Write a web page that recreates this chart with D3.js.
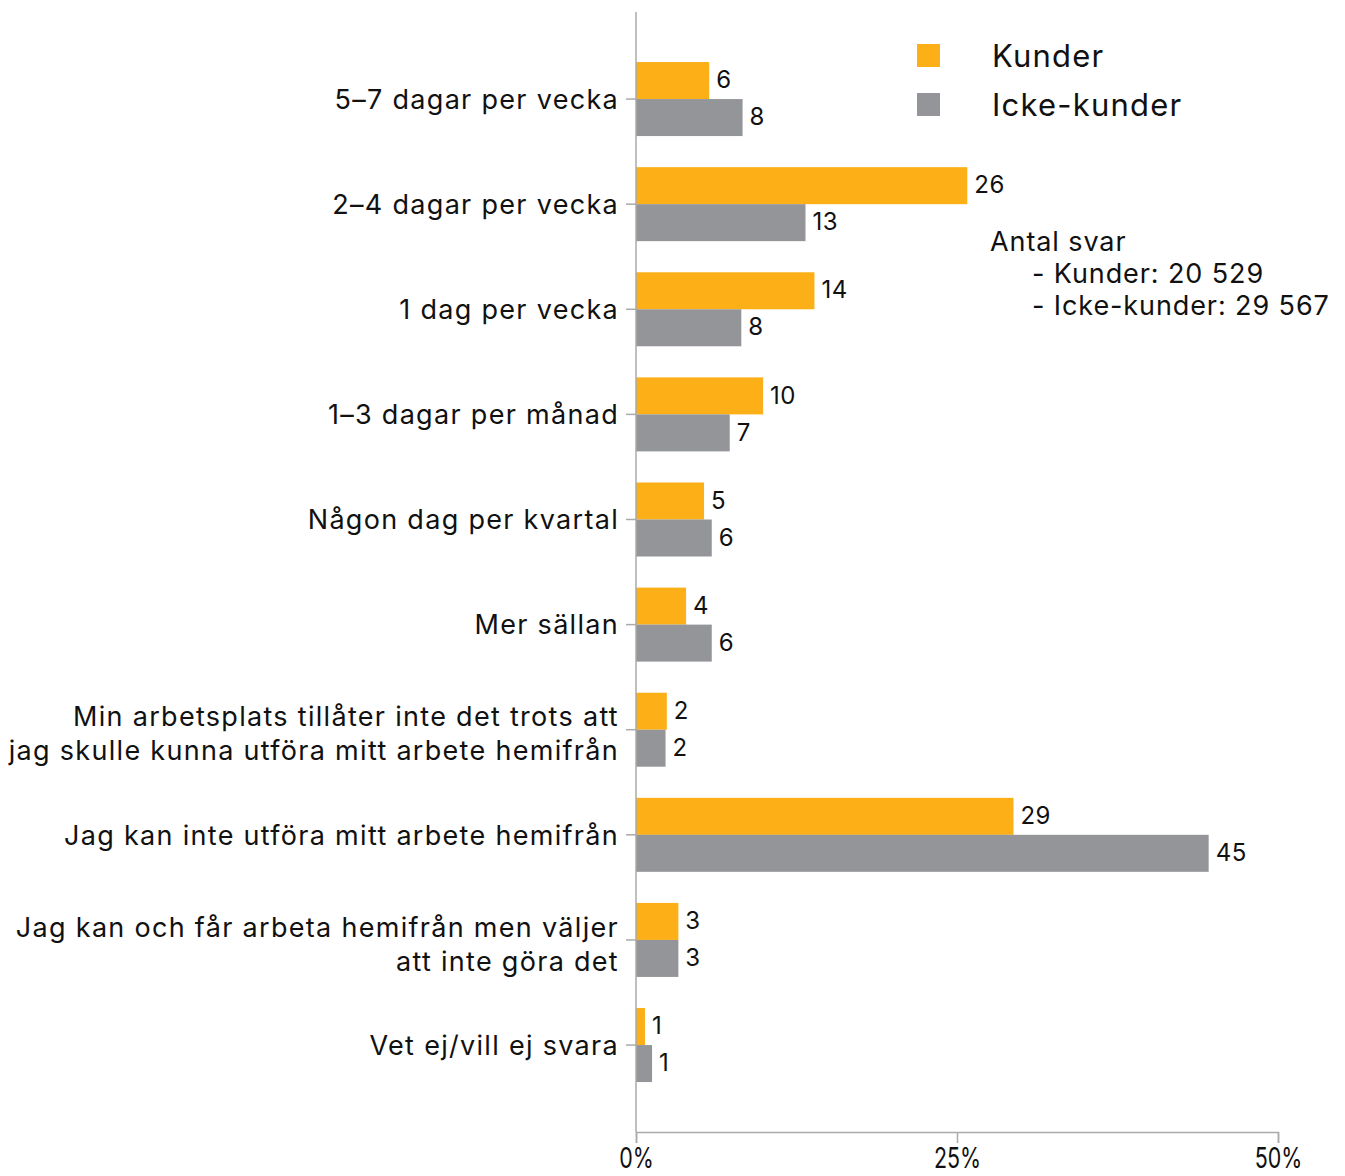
<!DOCTYPE html>
<html><head><meta charset="utf-8">
<script src="https://cdn.jsdelivr.net/npm/d3@7"></script>
<style>
body{margin:0;background:#fff;}
text{font-family:"Inter","Noto Sans",sans-serif;fill:#111;}
</style></head>
<body>
<svg id="c" width="1345" height="1176"></svg>
<script>
const categories = [
  ["5–7 dagar per vecka"],
  ["2–4 dagar per vecka"],
  ["1 dag per vecka"],
  ["1–3 dagar per månad"],
  ["Någon dag per kvartal"],
  ["Mer sällan"],
  ["Min arbetsplats tillåter inte det trots att", "jag skulle kunna utföra mitt arbete hemifrån"],
  ["Jag kan inte utföra mitt arbete hemifrån"],
  ["Jag kan och får arbeta hemifrån men väljer", "att inte göra det"],
  ["Vet ej/vill ej svara"]
];
const kunder = [5.7, 25.8, 13.9, 9.9, 5.3, 3.9, 2.4, 29.4, 3.3, 0.7];
const ickeKunder = [8.3, 13.2, 8.2, 7.3, 5.9, 5.9, 2.3, 44.6, 3.3, 1.25];
const seriesNames = ["Kunder", "Icke-kunder"];
const seriesColors = ["#FCAF17", "#939598"];
const xTicks = [0, 25, 50];
const noteLines = ["Antal svar", "- Kunder: 20 529", "- Icke-kunder: 29 567"];

const svg = d3.select("#c");
const x = d3.scaleLinear().domain([0, 50]).range([636, 1278]);
const keys = categories.map((d, i) => i);
const y = d3.scaleBand().domain(keys).range([46.5, 1097.6]).paddingInner(0.296).paddingOuter(0.148);
const ySub = d3.scaleBand().domain([0, 1]).range([0, y.bandwidth()]);
const series = [kunder, ickeKunder];

// bars
series.forEach((vals, s) => {
  const g = svg.append("g");
  g.selectAll("rect").data(vals).join("rect")
    .attr("x", x(0))
    .attr("y", (d, i) => y(i) + ySub(s))
    .attr("width", d => x(d) - x(0))
    .attr("height", ySub.bandwidth())
    .attr("fill", seriesColors[s]);
  g.selectAll("text").data(vals).join("text")
    .attr("x", d => x(d) + 7)
    .attr("y", (d, i) => y(i) + ySub(s) + ySub.bandwidth() / 2 - 1)
    .attr("dy", "0.36em")
    .attr("font-size", 24)
    .attr("letter-spacing", "0.5px")
    .text(d => d3.format(".0f")(d));
});

// y axis line + ticks
svg.append("line").attr("x1", x(0)).attr("x2", x(0)).attr("y1", 12).attr("y2", 1132)
  .attr("stroke", "#aaa").attr("stroke-width", 1.5);
svg.append("g").selectAll("line").data(keys).join("line")
  .attr("x1", x(0) - 10).attr("x2", x(0))
  .attr("y1", d => y(d) + y.bandwidth() / 2).attr("y2", d => y(d) + y.bandwidth() / 2)
  .attr("stroke", "#aaa").attr("stroke-width", 1.5);

// category labels
const lab = svg.append("g").selectAll("text").data(keys).join("text")
  .attr("text-anchor", "end")
  .attr("font-size", 27)
  .attr("letter-spacing", "1.3px")
  .attr("y", d => y(d) + y.bandwidth() / 2 + (categories[d].length > 1 ? 4 : 0));
lab.each(function(d) {
  const lines = categories[d];
  const t = d3.select(this);
  const lh = 34;
  lines.forEach((ln, j) => {
    t.append("tspan").attr("x", 619)
      .attr("dy", j === 0 ? ((-(lines.length - 1) * lh / 2) / 27 + 0.36) + "em" : lh + "px")
      .text(ln);
  });
});

// x axis
const xa = svg.append("g").attr("transform", "translate(0,1132)")
  .call(d3.axisBottom(x).tickValues(xTicks).tickSize(11).tickPadding(4).tickFormat(d => d + "%"));
xa.select(".domain").attr("stroke", "#aaa").attr("stroke-width", 1.5);
xa.selectAll(".tick line").attr("stroke", "#aaa").attr("stroke-width", 1.5);
xa.selectAll(".tick text").attr("font-size", 29).attr("fill", "#111")
  .attr("transform", "scale(0.74,1)");

// legend
const lg = svg.append("g");
seriesNames.forEach((n, i) => {
  lg.append("rect").attr("x", 917).attr("y", 44 + i * 49).attr("width", 23).attr("height", 23).attr("fill", seriesColors[i]);
  lg.append("text").attr("x", 992).attr("y", 55.5 + i * 49).attr("dy", "0.36em").attr("font-size", 31)
    .attr("letter-spacing", "1.2px").text(n);
});

// note
noteLines.forEach((t, i) => {
  svg.append("text").attr("x", i === 0 ? 990 : 1032).attr("y", 241 + i * 32).attr("dy", "0.36em")
    .attr("font-size", 27).attr("letter-spacing", "0.9px").text(t);
});
</script>
</body></html>
